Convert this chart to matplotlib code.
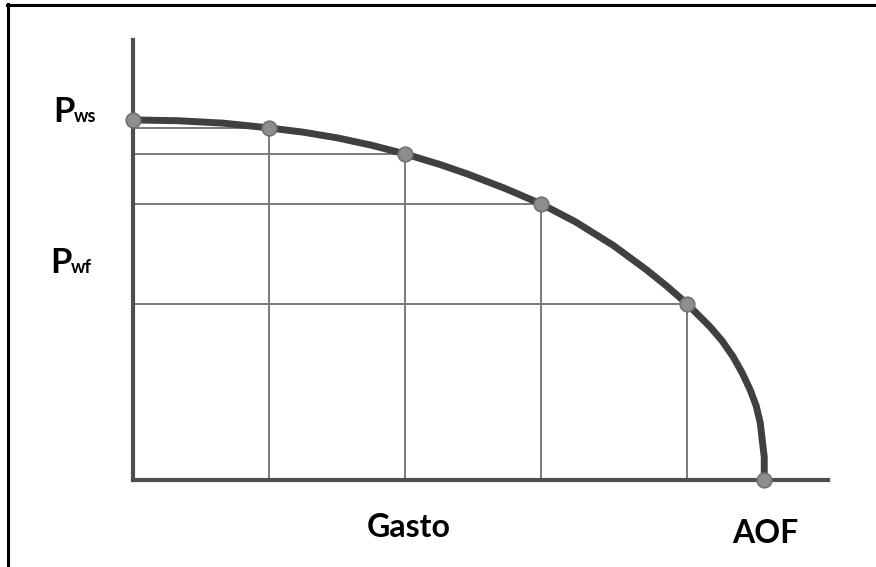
import matplotlib
matplotlib.use("Agg")
import matplotlib.pyplot as plt
from matplotlib.lines import Line2D

# IPR curve: flow rate (Gasto) vs bottom-hole flowing pressure, relative units
curve_q = [0, 7.13, 14.26, 21.55, 26.94, 32.33, 37.72, 43.11, 48.65, 52.93, 58.95,
           64.66, 70.05, 76.07, 81.30, 84.47, 87.80, 91.44, 93.34, 95.09, 96.51,
           97.78, 98.73, 99.37, 99.68, 100, 100]
curve_p = [100, 99.78, 99.11, 97.78, 96.61, 95.03, 93.0, 90.56, 87.61, 85.03, 80.97,
           76.67, 71.75, 65.17, 58.44, 53.97, 48.89, 42.5, 38.61, 34.17, 29.72,
           25.0, 20.56, 15.83, 11.11, 6.39, 0]

# Test points on the curve
point_q = [0, 21.55, 43.11, 64.66, 87.80, 100]
point_p = [100, 97.78, 90.56, 76.67, 48.89, 0]

x_label = "Gasto"
aof_label = "AOF"
pws_label = ("P", "ws")
pwf_label = ("P", "wf")

W, H = 876, 567
fig = plt.figure(figsize=(W / 100, H / 100), dpi=100)
fig.patch.set_facecolor("white")

# axes placed in pixel terms: origin at (133, 480) from top-left
left, right = 133, 828
bottom_px, top_px = 480, 40
ax = fig.add_axes([left / W, (H - bottom_px) / H, (right - left) / W, (bottom_px - top_px) / H])
ax.set_xlim(0, 110.1)
ax.set_ylim(0, 122.2)
ax.set_facecolor("white")
for s in ("top", "right"):
    ax.spines[s].set_visible(False)
for s in ("left", "bottom"):
    ax.spines[s].set_color("#4f4f4f")
    ax.spines[s].set_linewidth(3.0)
    ax.spines[s].set_capstyle("projecting")
ax.set_xticks([])
ax.set_yticks([])

# guide lines from each test point to the axes
for q, p in zip(point_q[1:-1], point_p[1:-1]):
    ax.plot([q, q], [0, p], color="#7a7a7a", lw=1.4, zorder=2)
    ax.plot([0, q], [p, p], color="#7a7a7a", lw=1.4, zorder=2)

# the IPR curve
ax.plot(curve_q, curve_p, color="#404040", lw=5.0, solid_capstyle="round",
        solid_joinstyle="round", zorder=3, clip_on=False)
ax.plot(point_q, point_p, "o", ms=10.5, mfc="#8e8e8e", mec="#727272", mew=1.2,
        zorder=4, clip_on=False)

font = "Lato"

def fx(px):
    return px / W

def fy(py):
    return 1 - py / H

# pressure labels with subscripts
for (big, small), (xp, yb) in ((pws_label, (53, 122)), (pwf_label, (50, 273))):
    fig.text(fx(xp), fy(yb), big, fontsize=25, fontweight="bold", family=font,
             color="black", ha="left", va="baseline")
    fig.text(fx(xp + 21), fy(yb), small, fontsize=13, fontweight="bold", family=font,
             color="black", ha="left", va="baseline")

fig.text(fx(409), fy(537), x_label, fontsize=23, fontweight="bold", family=font,
         color="black", ha="center", va="baseline")
fig.text(fx(765), fy(543), aof_label, fontsize=23, fontweight="bold", family=font,
         color="black", ha="center", va="baseline")

# frame lines along the left and top edge
fig.add_artist(Line2D([fx(8), fx(8)], [fy(4), 0], transform=fig.transFigure,
                      color="black", lw=2.2))
fig.add_artist(Line2D([fx(7), 1], [fy(5), fy(5)], transform=fig.transFigure,
                      color="black", lw=2.2))

fig.savefig("out.png", dpi=100, facecolor="white")
